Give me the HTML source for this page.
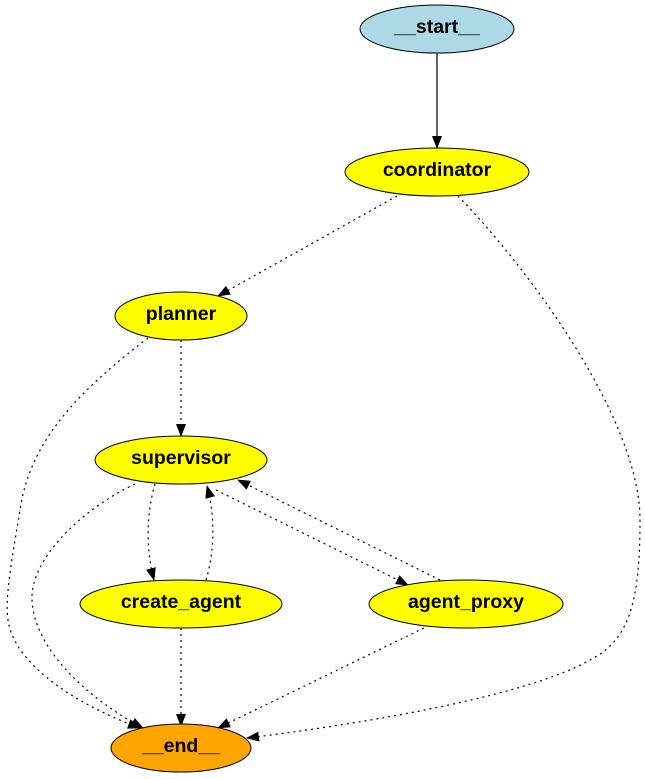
<!DOCTYPE html>
<html><head><meta charset="utf-8"><style>
html,body{margin:0;padding:0;background:#fff;}
svg{display:block;}
text{font-family:"Liberation Sans",Arial,sans-serif;font-weight:bold;font-size:19.5px;text-anchor:middle;}
</style></head><body>
<svg width="645" height="779" viewBox="0 0 645 779" xmlns="http://www.w3.org/2000/svg">
<defs>
<marker id="a" markerWidth="13" markerHeight="10" refX="12" refY="5" orient="auto" markerUnits="userSpaceOnUse">
<path d="M0,0 L13,5 L0,10 z" fill="#000"/>
</marker>
</defs>
<g fill="none" stroke="#000" stroke-width="1.2">
<path d="M437,53 L437,148" marker-end="url(#a)"/>
<g stroke-dasharray="2,4">
<path d="M397,196 L218,296" marker-end="url(#a)"/>
<path d="M458,196 C530,270 640,420 640,520 C640,600 630,640 590,660 C520,700 330,728 247,738" marker-end="url(#a)"/>
<path d="M181,340 L181,436" marker-end="url(#a)"/>
<path d="M148,338 C80,390 30,440 20,510 C10,570 5,600 8,620 C15,670 90,710 140,728" marker-end="url(#a)"/>
<path d="M135,484 C80,510 30,560 32,600 C34,650 90,700 143,728" marker-end="url(#a)"/>
<path d="M155,484 C146,515 146,550 154,580" marker-end="url(#a)"/>
<path d="M206,580 C215,550 215,515 207,486" marker-end="url(#a)"/>
<path d="M216,490 L408,585" marker-end="url(#a)"/>
<path d="M440,580 L238,480" marker-end="url(#a)"/>
<path d="M181,628 L181,726" marker-end="url(#a)"/>
<path d="M424,628 L218,728" marker-end="url(#a)"/>
</g>
</g>
<g stroke="#000" stroke-width="1">
<ellipse cx="437" cy="29" rx="77" ry="24" fill="#add8e6"/>
<ellipse cx="437" cy="172" rx="92" ry="24" fill="#ffff00"/>
<ellipse cx="181" cy="316" rx="66" ry="24" fill="#ffff00"/>
<ellipse cx="181" cy="460" rx="86" ry="24" fill="#ffff00"/>
<ellipse cx="181" cy="604" rx="101" ry="24" fill="#ffff00"/>
<ellipse cx="466" cy="604" rx="97" ry="24" fill="#ffff00"/>
<ellipse cx="181" cy="748" rx="70" ry="24" fill="#ffa500"/>
</g>
<text x="437" y="33">__start__</text>
<text x="437" y="176">coordinator</text>
<text x="181" y="320">planner</text>
<text x="181" y="464">supervisor</text>
<text x="181" y="608">create_agent</text>
<text x="466" y="608">agent_proxy</text>
<text x="181" y="752">__end__</text>
</svg>
</body></html>
